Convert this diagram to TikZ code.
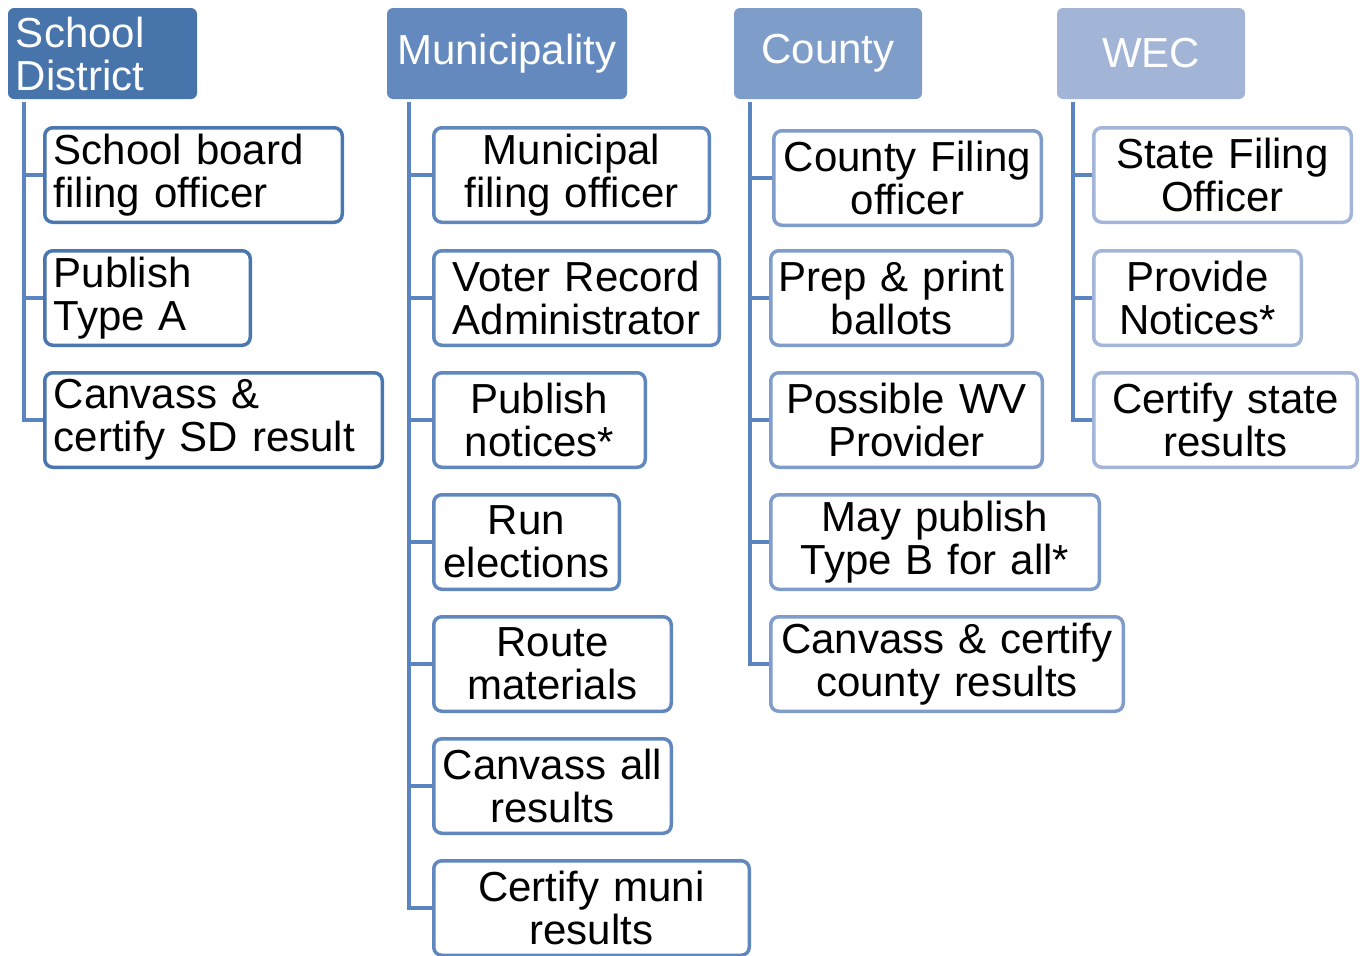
\documentclass[tikz,border=0pt]{standalone}
\usepackage{fontspec}
\setmainfont{Liberation Sans}
\usetikzlibrary{backgrounds}
\definecolor{hdA}{HTML}{4674AB}
\definecolor{hdB}{HTML}{6389BE}
\definecolor{hdC}{HTML}{7F9DC9}
\definecolor{hdD}{HTML}{A2B5D7}
\definecolor{bdA}{HTML}{4A77AF}
\definecolor{bdB}{HTML}{6088BF}
\definecolor{bdC}{HTML}{7F9CCB}
\definecolor{bdD}{HTML}{A3B5D9}
\definecolor{connc}{HTML}{5A85C1}
\begin{document}
\begin{tikzpicture}[x=1pt,y=-1pt,
  every node/.style={font=\fontsize{42}{43}\selectfont},
  hdbox/.style={fill=#1, text=white, rounded corners=6pt, anchor=north west,
    inner xsep=8pt, inner ysep=0pt, minimum height=91pt, outer sep=0pt},
  cbox/.style={draw=#1, fill=white, line width=3.5pt, rounded corners=8pt,
    anchor=north west, inner xsep=9pt, inner ysep=0pt, minimum height=94.5pt},
  ccbox/.style={cbox=#1, inner xsep=2pt, align=center},
  conn/.style={draw=connc, line width=4.5pt}
]
\useasboundingbox (0,0) rectangle (1366,956);
% headers
\node[hdbox=hdA, text width=173pt, align=left] (sd) at (8,8) {School\\District};
\node[hdbox=hdB, text width=224pt, align=center] (mu) at (387,8) {Municipality};
\node[hdbox=hdC, text width=172pt, align=center] (co) at (734,8) {County};
\node[hdbox=hdD, text width=172pt, align=center] (we) at (1057,8) {WEC};
% school district
\node[cbox=bdA, text width=279.5pt, align=left] (s1) at (43,126) {School board\\filing officer};
\node[cbox=bdA, text width=187.5pt, align=left] (s2) at (43,249) {Publish\\Type A};
\node[cbox=bdA, text width=319.5pt, align=left] (s3) at (43,371) {Canvass \&\\certify SD result};
% municipality
\node[ccbox=bdB, text width=271.5pt] (m1) at (432,126) {Municipal\\filing officer};
\node[ccbox=bdB, text width=281.5pt] (m2) at (432,249) {Voter Record\\Administrator};
\node[ccbox=bdB, text width=207.5pt] (m3) at (432,371) {Publish\\notices*};
\node[ccbox=bdB, text width=181.5pt] (m4) at (432,493) {Run\\elections};
\node[ccbox=bdB, text width=233.5pt] (m5) at (432,615) {Route\\materials};
\node[ccbox=bdB, text width=233.5pt] (m6) at (432,737) {Canvass all\\results};
\node[ccbox=bdB, text width=311.5pt] (m7) at (432,859) {Certify muni\\results};
% county
\node[ccbox=bdC, text width=263.5pt] (c1) at (772,129) {County Filing\\officer};
\node[ccbox=bdC, text width=237.5pt] (c2) at (769,249) {Prep \& print\\ballots};
\node[ccbox=bdC, text width=267.5pt] (c3) at (769,371) {Possible WV\\Provider};
\node[ccbox=bdC, text width=324.5pt] (c4) at (769,493) {May publish\\Type B for all*};
\node[ccbox=bdC, text width=348.5pt] (c5) at (769,615) {Canvass \& certify\\county results};
% WEC
\node[ccbox=bdD, text width=253.5pt] (w1) at (1092,126) {State Filing\\Officer};
\node[ccbox=bdD, text width=203.5pt] (w2) at (1092,249) {Provide\\Notices*};
\node[ccbox=bdD, text width=259.5pt] (w3) at (1092,371) {Certify state\\results};
% trunks
\coordinate (sdt) at ([xshift=16pt,yshift=-3pt]sd.south west);
\coordinate (mut) at ([xshift=22pt,yshift=-3pt]mu.south west);
\coordinate (cot) at ([xshift=16pt,yshift=-3pt]co.south west);
\coordinate (wet) at ([xshift=16pt,yshift=-3pt]we.south west);
\begin{scope}[on background layer]
\draw[conn] (sdt) |- (s3.west);
\foreach \n in {s1,s2} \draw[conn] (sdt |- \n.west) -- (\n.west);
\draw[conn] (mut) |- (m7.west);
\foreach \n in {m1,m2,m3,m4,m5,m6} \draw[conn] (mut |- \n.west) -- (\n.west);
\draw[conn] (cot) |- (c5.west);
\foreach \n in {c1,c2,c3,c4} \draw[conn] (cot |- \n.west) -- (\n.west);
\draw[conn] (wet) |- (w3.west);
\foreach \n in {w1,w2} \draw[conn] (wet |- \n.west) -- (\n.west);
\end{scope}
\end{tikzpicture}
\end{document}
